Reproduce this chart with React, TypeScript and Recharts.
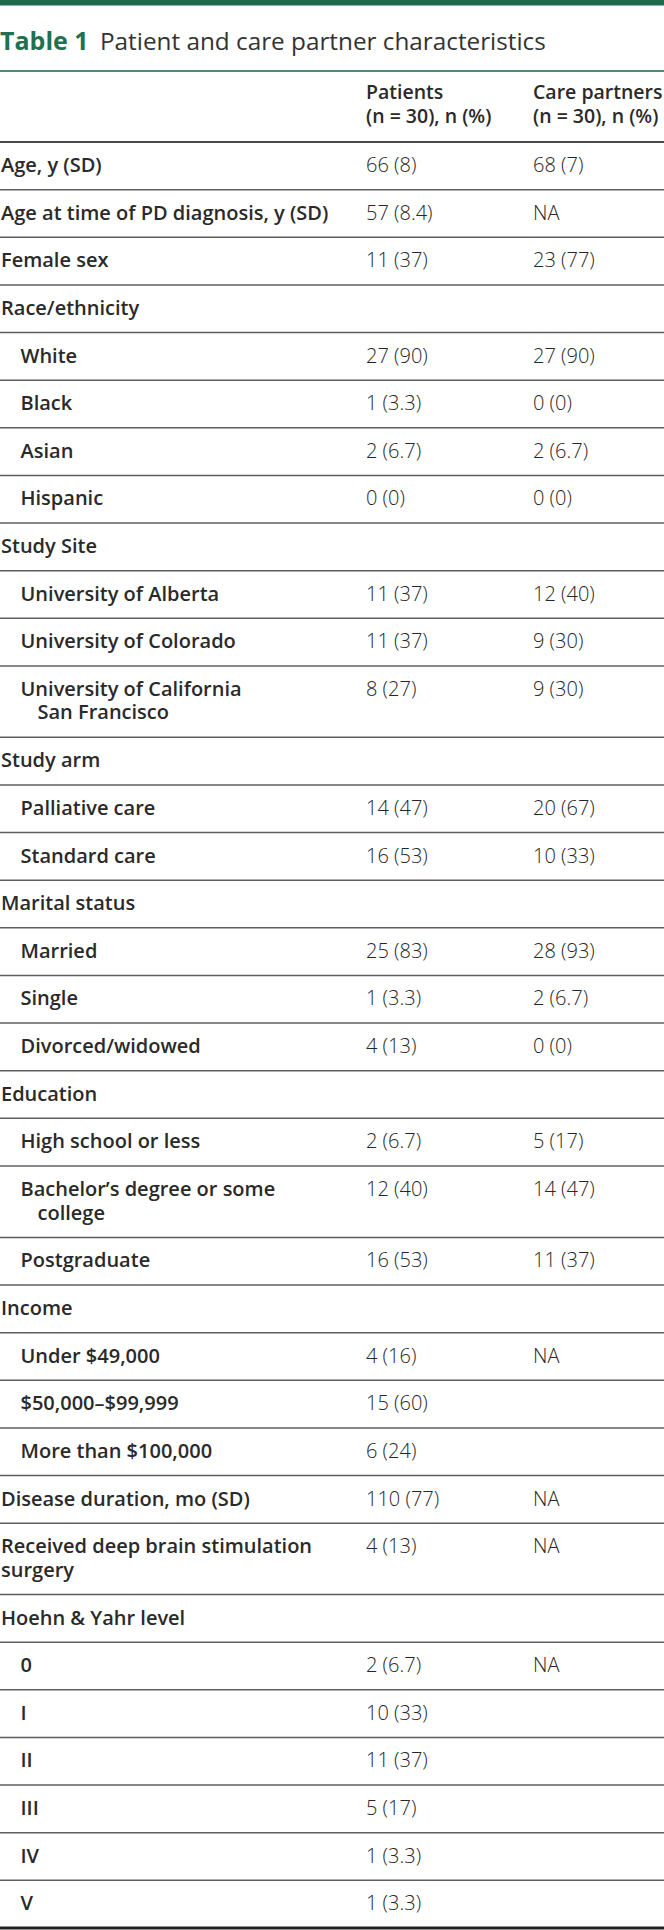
import React from 'react';
import { ScatterChart, Scatter, XAxis, YAxis, ReferenceLine } from 'recharts';

const titleLead = 'Table 1';
const titleText = 'Patient and care partner characteristics';
const columnHeads = [
  ['Patients', '(n = 30), n (%)'],
  ['Care partners', '(n = 30), n (%)'],
];

const rowLabels = [
  'Age, y (SD)',
  'Age at time of PD diagnosis, y (SD)',
  'Female sex',
  'Race/ethnicity',
  'White',
  'Black',
  'Asian',
  'Hispanic',
  'Study Site',
  'University of Alberta',
  'University of Colorado',
  'University of California\nSan Francisco',
  'Study arm',
  'Palliative care',
  'Standard care',
  'Marital status',
  'Married',
  'Single',
  'Divorced/widowed',
  'Education',
  'High school or less',
  'Bachelor’s degree or some\ncollege',
  'Postgraduate',
  'Income',
  'Under $49,000',
  '$50,000–$99,999',
  'More than $100,000',
  'Disease duration, mo (SD)',
  'Received deep brain stimulation\nsurgery',
  'Hoehn & Yahr level',
  '0',
  'I',
  'II',
  'III',
  'IV',
  'V',
];

// 0 = section / top level, 1 = sub-row
const rowLevels = [0, 0, 0, 0, 1, 1, 1, 1, 0, 1, 1, 1, 0, 1, 1, 0, 1, 1, 1, 0, 1, 1, 1, 0, 1, 1, 1, 0, 0, 0, 1, 1, 1, 1, 1, 1];

const patientValues = [
  '66 (8)', '57 (8.4)', '11 (37)', '',
  '27 (90)', '1 (3.3)', '2 (6.7)', '0 (0)', '',
  '11 (37)', '11 (37)', '8 (27)', '',
  '14 (47)', '16 (53)', '',
  '25 (83)', '1 (3.3)', '4 (13)', '',
  '2 (6.7)', '12 (40)', '16 (53)', '',
  '4 (16)', '15 (60)', '6 (24)',
  '110 (77)', '4 (13)', '',
  '2 (6.7)', '10 (33)', '11 (37)', '5 (17)', '1 (3.3)', '1 (3.3)',
];

const carePartnerValues = [
  '68 (7)', 'NA', '23 (77)', '',
  '27 (90)', '0 (0)', '2 (6.7)', '0 (0)', '',
  '12 (40)', '9 (30)', '9 (30)', '',
  '20 (67)', '10 (33)', '',
  '28 (93)', '2 (6.7)', '0 (0)', '',
  '5 (17)', '14 (47)', '11 (37)', '',
  'NA', '', '',
  'NA', 'NA', '',
  'NA', '', '', '', '', '',
];

// row height in half-line units: single line = 2, each extra line adds 1
const rowUnits = rowLabels.map((l) => 2 + (l.split('\n').length - 1));
const rowTops: number[] = [];
rowUnits.reduce((acc, u) => {
  rowTops.push(acc);
  return acc + u;
}, 0);
const totalUnits = rowUnits.reduce((a, b) => a + b, 0);
const boundaries = [0, ...rowTops.slice(1), totalUnits];

const COL_X = [0, 366, 533];

const labelData = rowLabels.map((label, i) => ({ x: COL_X[0], y: rowTops[i], text: label, level: rowLevels[i] }));
const patientData = patientValues.map((v, i) => ({ x: COL_X[1], y: rowTops[i], text: v, level: 0 }));
const careData = carePartnerValues.map((v, i) => ({ x: COL_X[2], y: rowTops[i], text: v, level: 0 }));

const FONT = "'Open Sans', sans-serif";

const LabelCell = (props: any) => {
  const { cx, cy, payload } = props;
  if (cx == null || cy == null) return null;
  const lines: string[] = payload.text.split('\n');
  const x = cx + 1 + (payload.level ? 19.5 : 0);
  return (
    <text y={cy + 30} fontFamily={FONT} fontSize={20} fontWeight={600} fill="#2a2a2a">
      {lines.map((l, i) => (
        <tspan key={i} x={x + (i > 0 && payload.level ? 17 : 0)} dy={i === 0 ? 0 : 23.6}>
          {l}
        </tspan>
      ))}
    </text>
  );
};

const ValueCell = (props: any) => {
  const { cx, cy, payload } = props;
  if (cx == null || cy == null || !payload.text) return null;
  return (
    <text x={cx} y={cy + 30} fontFamily={FONT} fontSize={20} fontWeight={300} fill="#262626">
      {payload.text}
    </text>
  );
};

export default function App() {
  return (
    <div style={{ position: 'absolute', left: 0, top: 0, width: 664, height: 1930, background: '#fff' }}>
      <svg width={664} height={142} style={{ position: 'absolute', left: 0, top: 0 }}>
        <rect x={0} y={0} width={664} height={5.5} fill="#1b6b4b" />
        <text x={0} y={50} fontFamily={FONT} fontSize={25} fontWeight={700} fill="#1f7150">
          {titleLead}
        </text>
        <text x={100} y={50} fontFamily={FONT} fontSize={24.3} fontWeight={400} fill="#333">
          {titleText}
        </text>
        <line x1={0} x2={664} y1={71} y2={71} stroke="#4f8b74" strokeWidth={2} />
        {columnHeads.map((h, i) => (
          <text key={i} fontFamily={FONT} fontSize={19.5} fontWeight={600} fill="#2a2a2a">
            <tspan x={COL_X[i + 1]} y={98.5}>{h[0]}</tspan>
            <tspan x={COL_X[i + 1]} y={122.7}>{h[1]}</tspan>
          </text>
        ))}
      </svg>
      <div style={{ position: 'absolute', left: 0, top: 0 }}>
        <ScatterChart width={664} height={1930} margin={{ top: 142, right: 0, bottom: 2, left: 0 }}>
          <XAxis type="number" dataKey="x" domain={[0, 664]} hide />
          <YAxis type="number" dataKey="y" domain={[0, totalUnits]} reversed hide />
          {boundaries.map((b, i) => (
            <ReferenceLine
              key={i}
              y={b}
              ifOverflow="extendDomain"
              stroke={i === 0 ? '#4a4a4a' : i === boundaries.length - 1 ? '#222' : '#5e5e5e'}
              strokeWidth={i === 0 ? 2 : i === boundaries.length - 1 ? 3 : 1.5}
            />
          ))}
          <Scatter data={labelData} shape={LabelCell} isAnimationActive={false} />
          <Scatter data={patientData} shape={ValueCell} isAnimationActive={false} />
          <Scatter data={careData} shape={ValueCell} isAnimationActive={false} />
        </ScatterChart>
      </div>
    </div>
  );
}
